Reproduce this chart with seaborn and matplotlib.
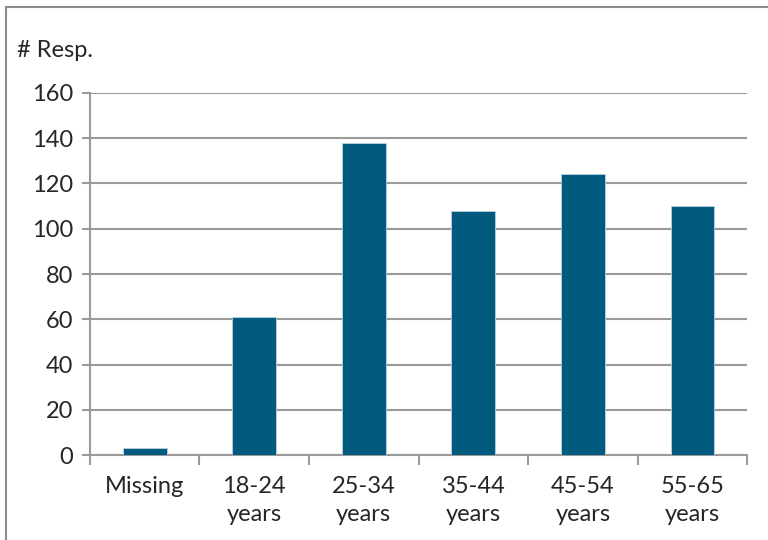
import matplotlib
matplotlib.use("Agg")
import matplotlib.pyplot as plt
from matplotlib.lines import Line2D
import seaborn as sns
import pandas as pd
import numpy as np

# Dados
categorias = ["Missing", "18-24\nyears", "25-34\nyears", "35-44\nyears", "45-54\nyears", "55-65\nyears"]
respostas = [3, 61, 138, 108, 124, 110]
yticks = [0, 20, 40, 60, 80, 100, 120, 140, 160]

sns.set_theme(style="white")
plt.rcParams["font.family"] = ["Lato", "DejaVu Sans"]

cor_barra = "#025B7E"
cinza = "#9A9A9A"
fs = 17

df = pd.DataFrame({"faixa": categorias, "resp": respostas})

fig = plt.figure(figsize=(7.68, 5.4), dpi=100)
ax = fig.add_axes([0.117, 0.157, 0.856, 0.671])

sns.barplot(data=df, x="faixa", y="resp", color=cor_barra, width=0.4,
            saturation=1, edgecolor="#B8D4E0", linewidth=0.6, ax=ax, zorder=3)

ax.set_ylim(0, 160)
ax.set_yticks(yticks)
ax.set_xlim(-0.5, len(categorias) - 0.5)
ax.yaxis.grid(True, color=cinza, linewidth=1.5, zorder=0)
ax.set_axisbelow(True)

for s in ["top", "right"]:
    ax.spines[s].set_visible(False)
for s in ["left", "bottom"]:
    ax.spines[s].set_color(cinza)
    ax.spines[s].set_linewidth(1.5)

ax.set_xlabel("")
ax.set_ylabel("")
ax.tick_params(axis="y", length=6, width=1.5, color=cinza, labelsize=fs, pad=6, left=True)
ax.tick_params(axis="x", which="major", length=0, labelsize=fs, pad=15)
ax.set_xticks(np.arange(-0.5, len(categorias)), minor=True)
ax.tick_params(axis="x", which="minor", length=7, width=1.5, color=cinza, bottom=True)
for lbl in ax.get_xticklabels():
    lbl.set_verticalalignment("top")
    lbl.set_linespacing(1.4)

fig.text(0.022, 0.907, "# Resp.", fontsize=fs, ha="left", va="center")

# borda do quadro (apenas topo e esquerda)
fig.add_artist(Line2D([0.008, 1.0], [0.987, 0.987], color="#8C8C8C", linewidth=1.5, transform=fig.transFigure))
fig.add_artist(Line2D([0.008, 0.008], [0.0, 0.987], color="#8C8C8C", linewidth=1.5, transform=fig.transFigure))

fig.savefig("out.png", dpi=100)
